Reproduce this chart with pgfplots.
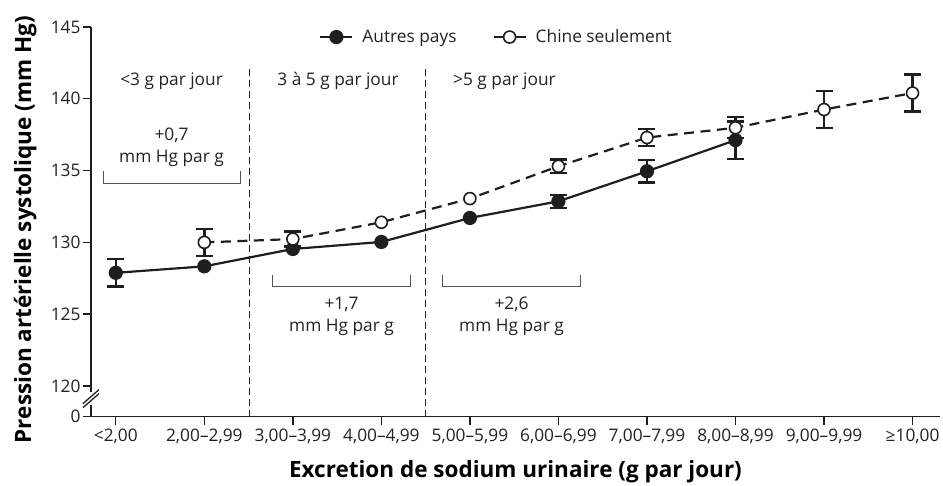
\documentclass[border=0pt]{standalone}
\usepackage{fontspec}
\setmainfont{Open Sans}
\usepackage{pgfplots}
\pgfplotsset{compat=1.18}
\definecolor{txt}{HTML}{222222}
\definecolor{ln}{HTML}{1E1E1E}
\definecolor{br}{HTML}{555555}
\begin{document}
\begin{tikzpicture}[x=1pt,y=1pt]
\begin{axis}[
  scale only axis,
  width=849pt, height=389.7pt,
  at={(0pt,0pt)}, anchor=south west,
  xmin=-0.28, xmax=9.31,
  ymin=117.86, ymax=145,
  axis x line=bottom, axis y line=left,
  axis line style={-, line width=1.4pt, color=ln},
  tick align=outside,
  major tick length=8pt,
  tick style={line width=1.4pt, color=ln},
  xtick={0,1,2,3,4,5,6,7,8,9},
  xticklabels={{<2,00},{2,00–2,99},{3,00–3,99},{4,00–4,99},{5,00–5,99},{6,00–6,99},{7,00–7,99},{8,00–8,99},{9,00–9,99},{≥10,00}},
  ytick={117.86,120,125,130,135,140,145},
  yticklabels={0,120,125,130,135,140,145},
  ticklabel style={font=\fontsize{17.3}{20}\selectfont, text=txt},
  xticklabel style={yshift=-1pt},
  yticklabel style={xshift=1pt},
  xlabel={\fontsize{22.5}{24}\selectfont\bfseries Excretion de sodium urinaire (g par jour)},
  ylabel={\fontsize{22.5}{24}\selectfont\bfseries Pression artérielle systolique (mm Hg)},
  xlabel style={at={(axis description cs:0.5,0)}, anchor=north, yshift=-40pt, text=black},
  ylabel style={at={(axis description cs:0,0.48)}, anchor=south, yshift=51pt, text=black},
  clip=false,
  legend columns=2,
  legend style={at={(axis cs:4.30,144.3)}, anchor=center, draw=none, fill=none,
    font=\fontsize{17.3}{20}\selectfont, text=txt,
    /tikz/every odd column/.append style={column sep=7pt},
    /tikz/every even column/.append style={column sep=34pt}},
  legend image code/.code={\draw[#1, solid, mark repeat=2, mark phase=2] plot coordinates {(0pt,0pt) (16pt,0pt) (32pt,0pt)};},
]
% vertical dashed separators
\draw[ln, line width=1.2pt, dash pattern=on 7pt off 4pt] (axis cs:1.51,117.86) -- (axis cs:1.51,142.28);
\draw[ln, line width=1.2pt, dash pattern=on 7pt off 4pt] (axis cs:3.50,117.86) -- (axis cs:3.50,142.28);

% error bars Autres pays
\addplot[forget plot, draw=none, mark=none, line width=2.2pt, ln,
  error bars/.cd, y dir=both, y explicit,
  error bar style={line width=2.4pt, ln},
  error mark options={rotate=90, mark size=8.5pt, line width=2.4pt, ln}]
  coordinates {(0,127.88) +- (0,0.95) (5,132.86) +- (0,0.45) (6,134.95) +- (0,0.77) (7,137.12) +- (0,1.3)};
% error bars Chine
\addplot[forget plot, draw=none, mark=none, line width=2.2pt, ln,
  error bars/.cd, y dir=both, y explicit,
  error bar style={line width=2.4pt, ln},
  error mark options={rotate=90, mark size=8.5pt, line width=2.4pt, ln}]
  coordinates {(1,130.0) +- (0,0.93) (2,130.23) +- (0,0.53) (5,135.3) +- (0,0.47) (6,137.3) +- (0,0.6) (7,138.0) +- (0,0.75) (8,139.25) +- (0,1.3) (9,140.4) +- (0,1.28)};

\addplot[ln, line width=2.2pt, mark=*, mark size=6pt, mark options={fill=ln, solid}]
  coordinates {(0,127.88) (1,128.33) (2,129.54) (3,130.03) (4,131.7) (5,132.86) (6,134.95) (7,137.12)};
\addlegendentry{Autres pays}
\addplot[ln, line width=2.2pt, dash pattern=on 10pt off 6.5pt, mark=*, mark size=6pt, mark options={fill=white, solid, line width=1.6pt}]
  coordinates {(1,130.0) (2,130.23) (3,131.4) (4,133.05) (5,135.3) (6,137.3) (7,137.98) (8,139.25) (9,140.4)};
\addlegendentry{Chine seulement}

% region labels
\node[text=txt, font=\fontsize{17.3}{20}\selectfont] at (axis cs:0.63,141.23) {<3 g par jour};
\node[text=txt, font=\fontsize{17.3}{20}\selectfont] at (axis cs:2.51,141.23) {3 à 5 g par jour};
\node[text=txt, font=\fontsize{17.3}{20}\selectfont] at (axis cs:4.39,141.23) {>5 g par jour};

% brackets
\draw[br, line width=1.4pt] (axis cs:-0.136,134.95) -- (axis cs:-0.136,134.09) -- (axis cs:1.41,134.09) -- (axis cs:1.41,134.95);
\draw[br, line width=1.4pt] (axis cs:1.77,127.76) -- (axis cs:1.77,126.93) -- (axis cs:3.33,126.93) -- (axis cs:3.33,127.76);
\draw[br, line width=1.4pt] (axis cs:3.69,127.76) -- (axis cs:3.69,126.93) -- (axis cs:5.25,126.93) -- (axis cs:5.25,127.76);
\node[text=txt, align=center, font=\fontsize{17.3}{22}\selectfont] at (axis cs:0.63,136.63) {+0,7\\mm Hg par g};
\node[text=txt, align=center, font=\fontsize{17.3}{22}\selectfont] at (axis cs:2.55,124.83) {+1,7\\mm Hg par g};
\node[text=txt, align=center, font=\fontsize{17.3}{22}\selectfont] at (axis cs:4.47,124.83) {+2,6\\mm Hg par g};

% axis break
\fill[white] ([xshift=-2pt]axis cs:-0.28,118.69) rectangle ([xshift=2pt]axis cs:-0.28,119.55);
\draw[ln, line width=1.3pt] ([shift={(-8pt,-9pt)}]axis cs:-0.28,119.12) -- ([shift={(8pt,5pt)}]axis cs:-0.28,119.12);
\draw[ln, line width=1.3pt] ([shift={(-8pt,-5pt)}]axis cs:-0.28,119.12) -- ([shift={(8pt,9pt)}]axis cs:-0.28,119.12);
\end{axis}
\pgfresetboundingbox
\path[use as bounding box] (-91pt,-69.3pt) rectangle (852pt,416.7pt);
\end{tikzpicture}
\end{document}
